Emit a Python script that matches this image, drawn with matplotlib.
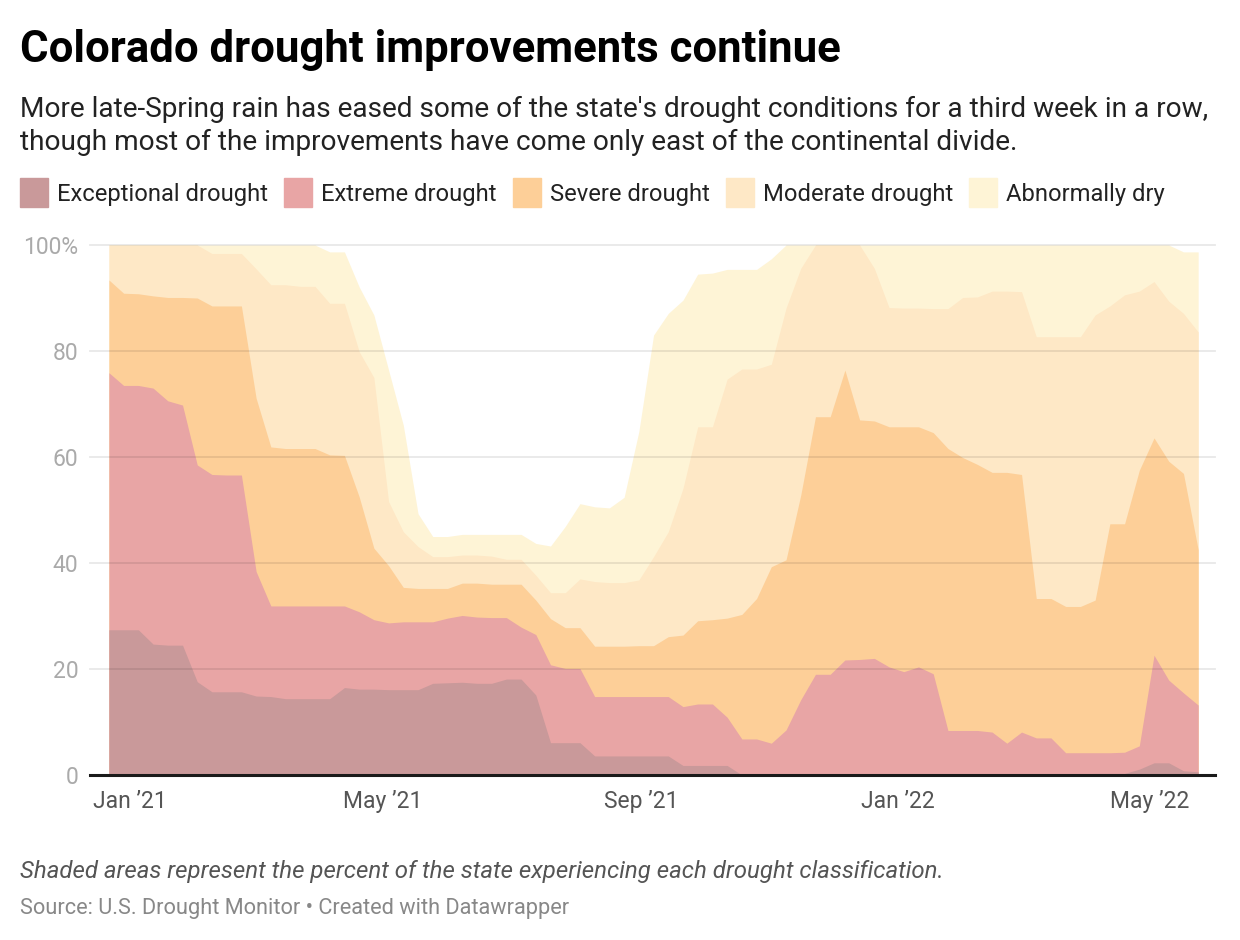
import numpy as np
import pandas as pd
import matplotlib
matplotlib.use("Agg")
import matplotlib.pyplot as plt
import matplotlib.dates as mdates

plt.rcParams['font.family'] = ['Roboto', 'DejaVu Sans']

# weekly U.S. Drought Monitor releases, Dec 22 2020 - May 24 2022
weeks = pd.date_range("2020-12-22", "2022-05-24", freq="7D")

# cumulative percent of Colorado area (each class includes the worse ones)
abnormally_dry = [100, 100, 100, 100, 100, 100, 100, 100, 100, 100,
                  100, 100, 100, 100, 100, 98.7, 98.7, 92.1, 86.8, 76.4,
                  66.0, 49.3, 45.0, 45.0, 45.4, 45.4, 45.4, 45.4, 45.4, 43.7,
                  43.2, 46.9, 51.2, 50.6, 50.4, 52.4, 64.8, 83.0, 87.1, 89.6,
                  94.5, 94.7, 95.4, 95.4, 95.4, 97.4, 100, 100, 100, 100,
                  100, 100, 100, 100, 100, 100, 100, 100, 100, 100,
                  100, 100, 100, 100, 100, 100, 100, 100, 100, 100,
                  100, 100, 100, 98.7, 98.7]
moderate = [100, 100, 100, 100, 100, 100, 100, 98.4, 98.4, 98.4,
            95.5, 92.5, 92.5, 92.2, 92.2, 89.0, 89.0, 79.9, 75.0, 51.6,
            45.9, 43.1, 41.2, 41.2, 41.5, 41.5, 41.3, 40.7, 40.7, 37.7,
            34.4, 34.4, 37.0, 36.5, 36.3, 36.3, 36.8, 41.2, 45.9, 54.1,
            65.7, 65.7, 74.7, 76.6, 76.6, 77.5, 88.1, 95.6, 100, 100,
            100, 100, 95.6, 88.2, 88.1, 88.1, 88.0, 88.0, 90.1, 90.2,
            91.3, 91.3, 91.2, 82.7, 82.7, 82.7, 82.7, 86.8, 88.5, 90.6,
            91.3, 93.1, 89.4, 87.1, 83.6]
severe = [93.4, 90.9, 90.8, 90.4, 90.1, 90.1, 90.0, 88.5, 88.5, 88.5,
          71.1, 61.9, 61.6, 61.6, 61.6, 60.4, 60.3, 52.5, 42.8, 39.5,
          35.4, 35.2, 35.2, 35.2, 36.2, 36.2, 36.0, 36.0, 36.0, 33.0,
          29.5, 27.8, 27.8, 24.3, 24.3, 24.3, 24.4, 24.4, 26.1, 26.4,
          29.1, 29.3, 29.6, 30.3, 33.3, 39.3, 40.6, 52.8, 67.6, 67.6,
          76.4, 67.0, 66.8, 65.7, 65.7, 65.7, 64.6, 61.6, 59.9, 58.6,
          57.1, 57.1, 56.7, 33.3, 33.3, 31.8, 31.8, 33.0, 47.4, 47.4,
          57.5, 63.6, 59.2, 56.9, 42.5]
extreme = [75.9, 73.5, 73.5, 73.0, 70.6, 69.8, 58.5, 56.7, 56.6, 56.6,
           38.4, 31.9, 31.9, 31.9, 31.9, 31.9, 31.9, 30.8, 29.3, 28.7,
           28.9, 28.9, 28.9, 29.6, 30.1, 29.8, 29.7, 29.7, 27.9, 26.5,
           20.8, 20.1, 20.1, 14.8, 14.8, 14.8, 14.8, 14.8, 14.8, 12.9,
           13.4, 13.4, 10.9, 6.8, 6.8, 6.0, 8.5, 14.2, 19.0, 19.0,
           21.7, 21.8, 22.0, 20.4, 19.5, 20.4, 19.1, 8.4, 8.4, 8.4,
           8.1, 6.0, 8.1, 7.0, 7.0, 4.2, 4.2, 4.2, 4.2, 4.3,
           5.5, 22.6, 17.9, 15.5, 13.2]
exceptional = [27.4, 27.4, 27.4, 24.7, 24.5, 24.5, 17.6, 15.7, 15.7, 15.7,
               14.9, 14.8, 14.4, 14.4, 14.4, 14.4, 16.5, 16.2, 16.2, 16.1,
               16.1, 16.1, 17.3, 17.4, 17.5, 17.3, 17.3, 18.1, 18.1, 15.1,
               6.1, 6.1, 6.1, 3.6, 3.6, 3.6, 3.6, 3.6, 3.6, 1.8,
               1.8, 1.8, 1.8, 0, 0, 0, 0, 0, 0, 0,
               0, 0, 0, 0, 0, 0, 0, 0, 0, 0,
               0, 0, 0, 0, 0, 0, 0.2, 0.3, 0.3, 0.3,
               1.1, 2.3, 2.3, 0.8, 0.6]

labels = ["Exceptional drought", "Extreme drought", "Severe drought",
          "Moderate drought", "Abnormally dry"]
colors = ["#c9999a", "#e8a5a5", "#fdcf98", "#fee8c6", "#fef4d6"]
series = [exceptional, extreme, severe, moderate, abnormally_dry]

W, H = 1240, 940
fig = plt.figure(figsize=(W / 100, H / 100), dpi=100)


def fx(x):
    return x / W


def fy(y):
    return 1 - y / H


ax = fig.add_axes([fx(90), fy(775), fx(1215) - fx(90), fy(245) - fy(775)])

# back to front: mildest class first
for vals, col in zip(series[::-1], colors[::-1]):
    ax.fill_between(weeks, 0, vals, color=col, linewidth=0, zorder=1)

ax.set_ylim(0, 100)
ax.set_xlim(pd.Timestamp("2020-12-13"), pd.Timestamp("2022-06-01"))

for s in ax.spines.values():
    s.set_visible(False)
ax.axhline(0, color="#1a1a1a", lw=2.2, zorder=5, clip_on=False)
for g in [20, 40, 60, 80, 100]:
    ax.axhline(g, color="#000000", alpha=0.09, lw=1.3, zorder=3, clip_on=False)

ax.set_yticks([0, 20, 40, 60, 80, 100])
ax.set_yticklabels(["0", "20", "40", "60", "80", "100%"])
ax.tick_params(axis="y", length=0, pad=8.5, labelsize=16.5, labelcolor="#aaaaaa")
ax.set_xticks([pd.Timestamp(d) for d in ["2021-01-01", "2021-05-01", "2021-09-01",
                                         "2022-01-01", "2022-05-01"]])
ax.xaxis.set_major_formatter(mdates.DateFormatter("%b \u2019%y"))
ax.tick_params(axis="x", length=0, pad=11, labelsize=16.5, labelcolor="#555555")

# header
fig.text(fx(20), fy(62), "Colorado drought improvements continue", fontsize=31.5,
         fontweight="bold", color="#000000", va="baseline", ha="left")
fig.text(fx(20), fy(117), "More late-Spring rain has eased some of the state's drought "
         "conditions for a third week in a row,", fontsize=20.2, color="#222222",
         va="baseline", ha="left")
fig.text(fx(20), fy(150), "though most of the improvements have come only east of the "
         "continental divide.", fontsize=20.2, color="#222222", va="baseline", ha="left")

# legend
leg_x = [20, 284, 513, 726, 969]
for x0, lab, col in zip(leg_x, labels, colors):
    fig.patches.append(plt.Rectangle((fx(x0), fy(207)), 28 / W, 29 / H,
                                     transform=fig.transFigure, color=col))
    fig.text(fx(x0 + 37), fy(201), lab, fontsize=17.1, color="#222222",
             va="baseline", ha="left")

# footer
fig.text(fx(20), fy(878), "Shaded areas represent the percent of the state experiencing "
         "each drought classification.", fontsize=17.3, style="italic", color="#555555",
         va="baseline", ha="left")
fig.text(fx(20), fy(914), "Source: U.S. Drought Monitor \u2022 Created with Datawrapper",
         fontsize=15.7, color="#888888", va="baseline", ha="left")

fig.savefig("out.png", dpi=100)
